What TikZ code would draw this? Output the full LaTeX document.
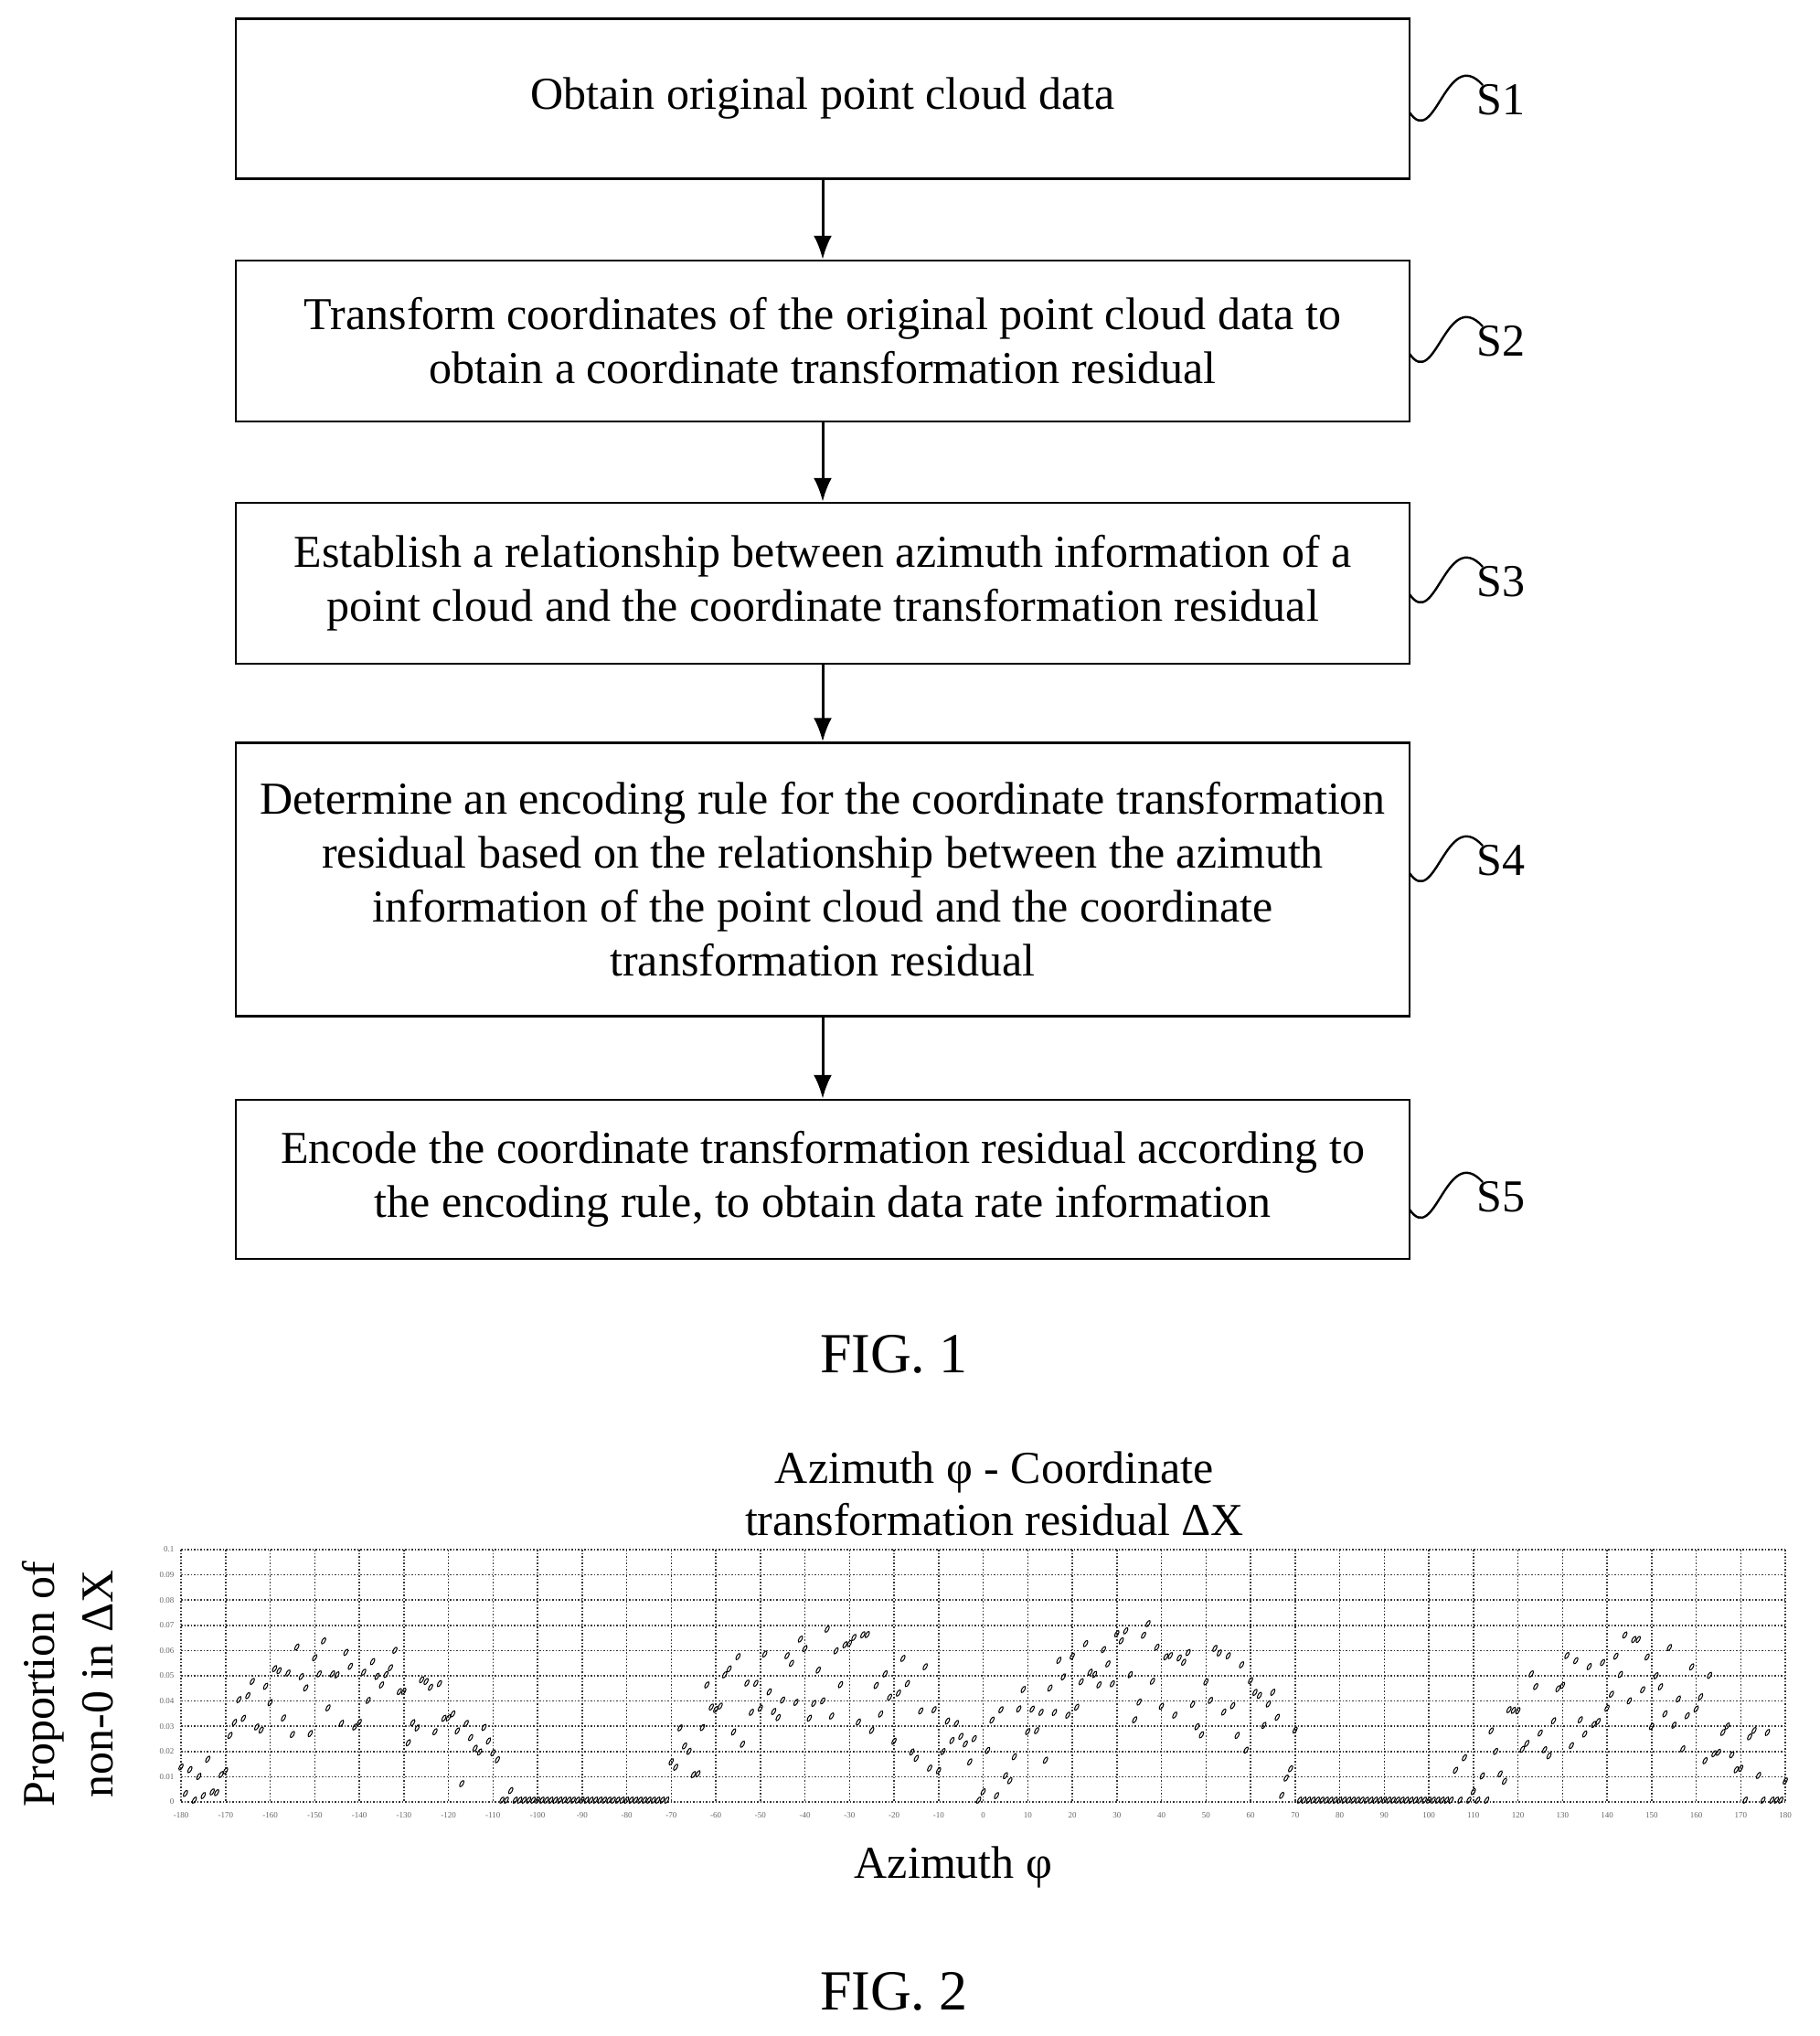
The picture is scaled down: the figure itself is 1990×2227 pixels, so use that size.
\documentclass[tikz,border=0pt]{standalone}
\usepackage{fontspec}
\setmainfont{Liberation Serif}
\usetikzlibrary{arrows.meta}
\begin{document}
\begin{tikzpicture}[x=1pt,y=-1pt,
  box/.style={draw,line width=2.5pt,minimum width=1284pt,align=center,font=\fontsize{50}{59}\selectfont},
  lab/.style={font=\fontsize{50}{50}\selectfont,anchor=west},
  arr/.style={-{Latex[length=26pt,width=20pt]},line width=3pt},
  sq/.style={line width=2.4pt},
  grid/.style={dotted,line width=1.5pt,black!80},
  tick/.style={font=\fontsize{9}{9}\selectfont,text=black!60},
  mk/.style={line width=1pt}]
\useasboundingbox (0,0) rectangle (1990,2227);
\node[box,minimum height=175pt] (b1) at (900,108) {Obtain original point cloud data};
\node[box,minimum height=176pt] (b2) at (900,373) {Transform coordinates of the original point cloud data to\\obtain a coordinate transformation residual};
\node[box,minimum height=176pt] (b3) at (900,638) {Establish a relationship between azimuth information of a\\point cloud and the coordinate transformation residual};
\node[box,minimum height=299pt] (b4) at (900,962) {Determine an encoding rule for the coordinate transformation\\residual based on the relationship between the azimuth\\information of the point cloud and the coordinate\\transformation residual};
\node[box,minimum height=174pt] (b5) at (900,1290) {Encode the coordinate transformation residual according to\\the encoding rule, to obtain data rate information};
\draw[arr] (b1) -- (b2);
\draw[arr] (b2) -- (b3);
\draw[arr] (b3) -- (b4);
\draw[arr] (b4) -- (b5);
\foreach \s/\y in {S1/109,S2/373,S3/636,S4/941,S5/1309}{
  \node[lab] (\s) at (1612,\y) {\s};
  \coordinate (\s a) at (1542,\y+14);
  \coordinate (\s b) at (1622,\y-16);
  \draw[sq] (\s a) .. controls (1570,\y+55) and (1582,\y-60) .. (\s b);
}
\node[font=\fontsize{62}{62}\selectfont] (f1) at (978,1481) {FIG. 1};
\node[font=\fontsize{50}{57}\selectfont,align=center] (title) at (1088,1634) {Azimuth φ - Coordinate\\transformation residual ΔX};
\node[font=\fontsize{50}{64}\selectfont,align=center,rotate=90] (ylab) at (74,1842) {Proportion of\\non-0 in ΔX};
\node[font=\fontsize{50}{50}\selectfont] (xlab) at (1043,2042) {Azimuth φ};
\node[font=\fontsize{62}{62}\selectfont] (f2) at (978,2178) {FIG. 2};
\foreach \i in {0,...,10}{
  \draw[grid] (198,1971-27.6*\i) -- (1953,1971-27.6*\i);
  \node[tick,anchor=east] (yt\i) at (194,1971-27.6*\i) {\ifnum\i=0 0\else\ifnum\i=10 0.1\else 0.0\i\fi\fi};
}
\foreach \i in {0,...,36}{
  \pgfmathtruncatemacro\d{-180+10*\i}
  \draw[grid] (198+48.75*\i,1695) -- (198+48.75*\i,1971);
  \node[tick] (xt\i) at (198+48.75*\i,1986) {\d};
}
\pgfmathsetseed{11}
\foreach \a in {-180,...,180}{
  \pgfmathtruncatemacro\aa{abs(\a)}
  \ifnum\aa<71
    \pgfmathsetmacro\v{max(0,0.012+0.04*sin(180*\aa/72)+0.02*rand)}
  \else\ifnum\aa<106
    \def\v{0}
  \else
    \pgfmathsetmacro\v{max(0,0.046*sin(180*(\aa-106)/74)+0.02*rand)}
  \fi\fi
  \pgfmathsetmacro\px{1075.5+4.875*\a}
  \pgfmathsetmacro\py{1969-2760*\v}
  \draw[mk,rotate around={60:(\px,\py)}] (\px,\py) ellipse (3.8pt and 1.6pt);
}
\end{tikzpicture}
\end{document}
